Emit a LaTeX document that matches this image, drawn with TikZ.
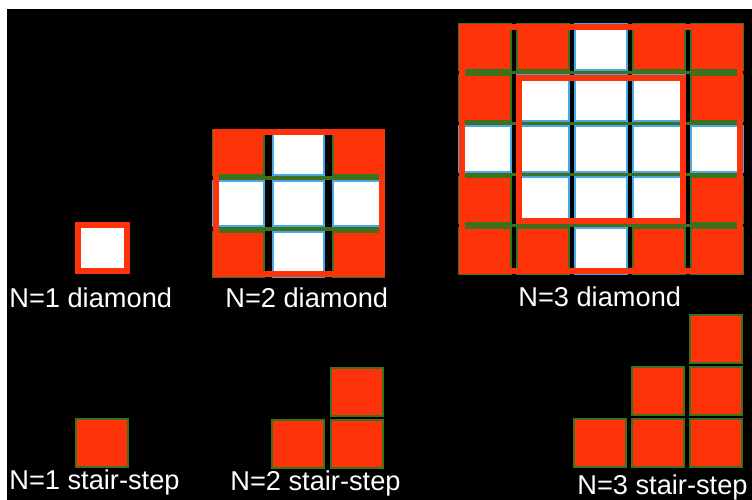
\documentclass[tikz,border=0pt]{standalone}
\usepackage{fontspec}
\setmainfont{Liberation Sans}
\usetikzlibrary{positioning}
\definecolor{cellred}{RGB}{255,51,10}
\definecolor{cellgreen}{RGB}{62,112,30}
\definecolor{edgeblue}{RGB}{70,170,230}
\tikzset{
  redcell/.style={fill=cellred, draw=cellgreen, line width=1.4pt},
  whitecell/.style={fill=white, draw=edgeblue, line width=0.6pt},
  rim/.style={draw=cellred, line width=3.6pt},
  gapline/.style={draw=cellgreen, line width=1.8pt},
  lbl/.style={text=white, anchor=base west, inner sep=0pt, font=\fontsize{15.5}{18}\selectfont}
}
\begin{document}
\begin{tikzpicture}[x=0.02cm,y=-0.02cm]
\useasboundingbox (0,0) rectangle (752,500);
\fill[white] (0,0) rectangle (752,500);
\fill[black] (7,9) rectangle (752,500);

% N=1 diamond
\draw[rim, fill=white] (78,225) rectangle (127,271);

% N=2 diamond
\foreach \y in {178,229} \draw[gapline] (213,\y) -- (385,\y);
\foreach \i in {0,1,2}
  \foreach \j in {0,1,2} {
    \pgfmathtruncatemacro\dist{abs(\i-1)+abs(\j-1)}
    \ifnum\dist>1
      \draw[redcell] (213+60*\i,130+51*\j) rectangle ++(51,45);
    \else
      \draw[whitecell] (213+60*\i,130+51*\j) rectangle ++(51,45);
    \fi
  }
\draw[rim] (216,132) rectangle (382,274);

% N=3 diamond
\foreach \y in {72.5,123.5,174.5,225.5} \draw[gapline] (459,\y) -- (743,\y);
\foreach \i in {0,...,4}
  \foreach \j in {0,...,4} {
    \pgfmathtruncatemacro\dist{abs(\i-2)+abs(\j-2)}
    \ifnum\dist>2
      \draw[redcell] (459+58*\i,24+51*\j) rectangle ++(52,46);
    \else
      \draw[whitecell] (459+58*\i,24+51*\j) rectangle ++(52,46);
    \fi
  }
\draw[rim] (462,27) rectangle (740,271);
\draw[rim] (519,78) rectangle (683,221);

% stair-steps
\draw[redcell] (76,419) rectangle ++(52,48);
\foreach \x/\y in {272/420,331/420,331/368}
  \draw[redcell] (\x,\y) rectangle ++(52,48);
\foreach \x/\y in {574/419,632/419,690/419,632/367,690/367,690/315}
  \draw[redcell] (\x,\y) rectangle ++(52,48);

% labels
\node[lbl] (d1) at (9,308) {N=1 diamond};
\node[lbl] (d2) at (225,308) {N=2 diamond};
\node[lbl] (d3) at (518,307) {N=3 diamond};
\node[lbl] (s1) at (9,490) {N=1 stair-step};
\node[lbl] (s2) at (230,491) {N=2 stair-step};
\node[lbl] (s3) at (577,495) {N=3 stair-step};
\end{tikzpicture}
\end{document}
